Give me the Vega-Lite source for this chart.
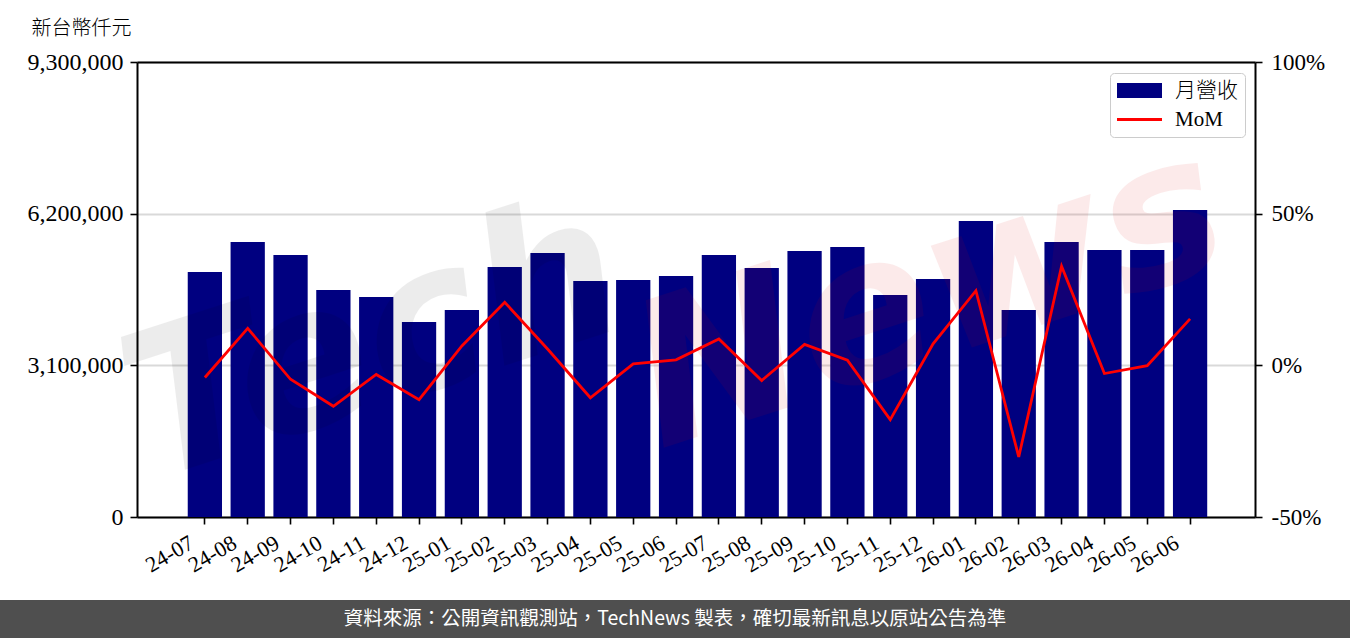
{
  "$schema": "https://vega.github.io/schema/vega-lite/v6.json",
  "padding": 0,
  "background": "white",
  "spacing": 0,
  "resolve": {"scale": {"color": "independent"}, "legend": {"color": "independent"}},
  "config": {
    "font": "Liberation Serif",
    "axis": {
      "domainColor": "#000000", "domainWidth": 2,
      "tickColor": "#000000", "tickWidth": 1.6, "tickSize": 7,
      "labelColor": "#000000", "labelFont": "Liberation Serif", "labelFontSize": 22,
      "gridColor": "#d9d9d9", "gridWidth": 1.8, "labelOverlap": false
    }
  },
  "vconcat": [
    {
      "width": 1350,
      "height": 600,
      "view": {"stroke": null},
      "data": {"values": [
        {"month": "24-07", "revenue": 5008000, "mom": -4.0},
        {"month": "24-08", "revenue": 5621000, "mom": 12.2},
        {"month": "24-09", "revenue": 5355000, "mom": -4.6},
        {"month": "24-10", "revenue": 4640000, "mom": -13.5},
        {"month": "24-11", "revenue": 4497000, "mom": -3.0},
        {"month": "24-12", "revenue": 3986000, "mom": -11.3},
        {"month": "25-01", "revenue": 4231000, "mom": 6.4},
        {"month": "25-02", "revenue": 5110000, "mom": 20.8},
        {"month": "25-03", "revenue": 5396000, "mom": 5.4},
        {"month": "25-04", "revenue": 4824000, "mom": -10.7},
        {"month": "25-05", "revenue": 4844000, "mom": 0.5},
        {"month": "25-06", "revenue": 4926000, "mom": 1.8},
        {"month": "25-07", "revenue": 5355000, "mom": 8.7},
        {"month": "25-08", "revenue": 5089000, "mom": -5.0},
        {"month": "25-09", "revenue": 5437000, "mom": 6.9},
        {"month": "25-10", "revenue": 5519000, "mom": 1.7},
        {"month": "25-11", "revenue": 4538000, "mom": -17.9},
        {"month": "25-12", "revenue": 4865000, "mom": 7.1},
        {"month": "26-01", "revenue": 6050000, "mom": 24.6},
        {"month": "26-02", "revenue": 4231000, "mom": -30.2},
        {"month": "26-03", "revenue": 5621000, "mom": 32.7},
        {"month": "26-04", "revenue": 5457000, "mom": -2.7},
        {"month": "26-05", "revenue": 5457000, "mom": -0.1},
        {"month": "26-06", "revenue": 6275000, "mom": 15.3}
      ]},
      "layer": [
        {
          "mark": {"type": "bar"},
          "encoding": {
            "x": {"field": "month", "type": "nominal", "sort": null,
              "scale": {"domain": ["pad0", "24-07", "24-08", "24-09", "24-10", "24-11", "24-12", "25-01", "25-02", "25-03", "25-04", "25-05", "25-06", "25-07", "25-08", "25-09", "25-10", "25-11", "25-12", "26-01", "26-02", "26-03", "26-04", "26-05", "26-06", "pad1"],
                "range": [137, 1255], "paddingInner": 0.2, "paddingOuter": 0.15, "align": 0.615, "round": false},
              "axis": {"title": null, "offset": -83, "values": ["24-07", "24-08", "24-09", "24-10", "24-11", "24-12", "25-01", "25-02", "25-03", "25-04", "25-05", "25-06", "25-07", "25-08", "25-09", "25-10", "25-11", "25-12", "26-01", "26-02", "26-03", "26-04", "26-05", "26-06"],
                "labelAngle": -30, "labelAlign": "right", "labelBaseline": "top", "labelPadding": 8, "labelOffset": -18, "grid": false}},
            "y": {"field": "revenue", "type": "quantitative",
              "scale": {"domain": [0, 9300000], "range": [517, 62], "nice": false, "zero": true},
              "axis": {"offset": -137, "values": [0, 3100000, 6200000, 9300000], "format": ",d", "grid": true, "labelPadding": 7, "labelFontSize": 24,
                "title": "新台幣仟元", "titleAngle": 0, "titleAlign": "left", "titleBaseline": "alphabetic",
                "titleX": -106, "titleY": 34, "titleFont": "Liberation Serif, Noto Sans CJK TC", "titleFontSize": 20, "titleFontWeight": 300, "titleColor": "#000000"}},
            "color": {"datum": "月營收", "type": "nominal",
              "scale": {"domain": ["月營收", "MoM"], "range": ["#000080", "#ff0000"]},
              "legend": {
                "title": null, "orient": "none", "legendX": 1110, "legendY": 73,
                "fillColor": "#ffffff", "strokeColor": "#cccccc", "cornerRadius": 4, "padding": 7,
                "labelFont": "Liberation Serif, Noto Sans CJK TC", "labelFontSize": 21, "labelFontWeight": 300, "labelColor": "#000000",
                "symbolType": "M-3,-1H3V1H-3Z", "symbolSize": 225, "symbolOffset": 12, "rowPadding": 7, "labelOffset": 25,
                "encode": {"symbols": {"update": {
                  "shape": {"signal": "datum.value === 'MoM' ? 'M-3,-0.2H3V0.2H-3Z' : 'M-3,-1H3V1H-3Z'"},
                  "fill": {"signal": "datum.value === 'MoM' ? '#ff0000' : '#000080'"},
                  "stroke": {"value": "transparent"},
                  "strokeWidth": {"value": 0},
                  "opacity": {"value": 1}
                }}}
              }}
          }
        },
        {
          "data": {"values": [{"w": "Tech"}]},
          "mark": {"type": "text", "font": "DejaVu Sans", "fontWeight": "bold", "fontStyle": "italic", "fontSize": 200, "angle": -18, "dx": -300, "dy": -50, "color": "#000000", "opacity": 0.07, "align": "center", "baseline": "middle"},
          "encoding": {"text": {"field": "w"}}
        },
        {
          "data": {"values": [{"w": "News"}]},
          "mark": {"type": "text", "font": "DejaVu Sans", "fontWeight": "bold", "fontStyle": "italic", "fontSize": 200, "angle": -18, "dx": 243, "dy": 77, "color": "#dd0000", "opacity": 0.08, "align": "center", "baseline": "middle"},
          "encoding": {"text": {"field": "w"}}
        },
        {
          "mark": {"type": "line", "strokeWidth": 2.8},
          "encoding": {
            "x": {"field": "month", "type": "nominal", "sort": null,
              "axis": {"orient": "top", "offset": -62, "labels": false, "ticks": false, "title": null, "grid": false, "domain": true}},
            "y": {"field": "mom", "type": "quantitative",
              "scale": {"domain": [-50, 100], "range": [517, 62], "nice": false, "zero": false},
              "axis": {"orient": "right", "offset": -95, "values": [-50, 0, 50, 100], "labelExpr": "datum.value + '%'", "grid": false, "labelPadding": 9, "labelFontSize": 23, "title": null}},
            "color": {"datum": "MoM", "type": "nominal"}
          }
        }
      ],
      "resolve": {"scale": {"y": "independent"}, "axis": {"x": "independent"}}
    },
    {
      "width": 1350,
      "height": 38,
      "view": {"fill": "#4f4f4f", "stroke": null},
      "data": {"values": [{"note": "資料來源：公開資訊觀測站，TechNews 製表，確切最新訊息以原站公告為準"}]},
      "mark": {"type": "text", "color": "#ffffff", "font": "Noto Sans CJK TC", "fontSize": 19.5},
      "encoding": {"text": {"field": "note"}}
    }
  ]
}
